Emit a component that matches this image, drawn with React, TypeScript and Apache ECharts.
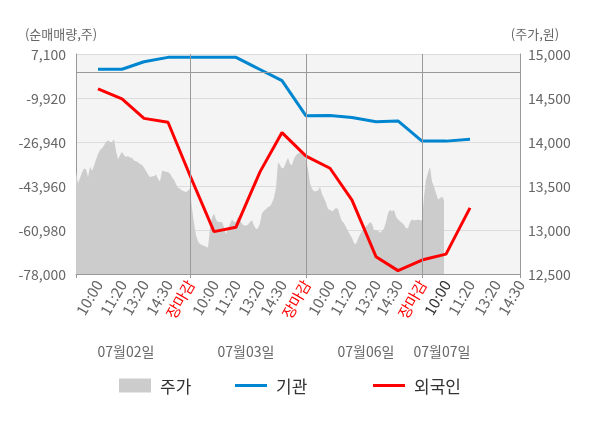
import React, { useEffect, useRef } from 'react';
import * as echarts from 'echarts';

// ---- data ----
const dayLabels = [
  ['10:00', '11:20', '13:20', '14:30', '장마감'],
  ['10:00', '11:20', '13:20', '14:30', '장마감'],
  ['10:00', '11:20', '13:20', '14:30', '장마감'],
  ['10:00', '11:20', '13:20', '14:30'],
];
const labelSlots = [11, 23, 34, 46, 57, 69, 80, 92, 103, 115, 127, 138, 150, 161, 173, 185, 197, 210, 222];
const dayBoundarySlots = [0, 57, 115, 173, 222];
const dates = ['07월02일', '07월03일', '07월06일', '07월07일'];
const dateSlots = [25, 85, 145, 183];
const currentSlot = 185;
const slotCount = 223;

const leftTicks = { min: -78000, max: 7100, interval: 17020 };
const rightTicks = { min: 12500, max: 15000, interval: 500 };

const institution = [1200, 1200, 4100, 5800, 5800, 5800, 5800, 1100, -3200, -16800, -16700, -17500, -19100, -18800, -26600, -26600, -25900];
const foreign = [-6400, -10300, -17800, -19300, -39900, -61600, -59900, -38500, -23300, -32400, -37100, -49400, -71300, -76700, -72600, -70300, -52400];

const price = [
  13660, 13530, 13590, 13650, 13700, 13690, 13600, 13720, 13670, 13730,
  13800, 13860, 13910, 13930, 13960, 14000, 14020, 14000, 14000, 14030,
  13900, 13800, 13850, 13890, 13850, 13830, 13840, 13820, 13820, 13790,
  13780, 13770, 13750, 13740, 13710, 13670, 13630, 13600, 13610, 13610,
  13630, 13580, 13550, 13670, 13670, 13660, 13660, 13640, 13600, 13570,
  13520, 13480, 13470, 13450, 13440, 13430, 13450, 13470, 13250, 13080,
  12940, 12870, 12840, 12830, 12820, 12810, 12800, 13020, 13140, 13190,
  13120, 13090, 13090, 13090, 13030, 12950, 13020, 13070, 13120, 13090,
  13090, 13150, 13110, 13070, 13050, 13050, 13060, 13090, 13110, 13050,
  13010, 13020, 13080, 13190, 13220, 13240, 13260, 13270, 13310, 13370,
  13480, 13770, 13740, 13700, 13710, 13770, 13820, 13750, 13740, 13810,
  13850, 13870, 13880, 13860, 13840, 13790, 13700, 13530, 13470, 13440,
  13440, 13450, 13490, 13410, 13360, 13310, 13240, 13230, 13210, 13230,
  13250, 13240, 13160, 13100, 13080, 13030, 12990, 12950, 12910, 12850,
  12840, 12900, 12950, 12990, 13020, 13040, 13060, 13090, 13070, 13000,
  13000, 12990, 12970, 12990, 13020, 13090, 13190, 13230, 13210, 13230,
  13150, 13120, 13100, 13080, 13060, 13020, 13020, 13090, 13120, 13110,
  13110, 13120, 13110, 13110, 13380, 13570, 13650, 13720, 13550, 13490,
  13420, 13350, 13360, 13380, 13340,
];

const timeLabels = dayLabels.flat();
const slotLabels: string[] = Array.from({ length: slotCount }, (_, i) => {
  const k = labelSlots.indexOf(i);
  return k >= 0 ? timeLabels[k] : '';
});
const dateAxisLabels: string[] = Array.from({ length: slotCount }, (_, i) => {
  const k = dateSlots.indexOf(i);
  return k >= 0 ? dates[k] : '';
});

const FONT = '"Noto Sans CJK KR", "Noto Sans", sans-serif';
const fmt = (v: number) => v.toLocaleString('en-US');

export default function App() {
  const ref = useRef<HTMLDivElement>(null);
  useEffect(() => {
    document.body.style.margin = '0';
    const chart = echarts.init(ref.current!, undefined, { renderer: 'svg' });
    const legendBase = {
      top: 372,
      itemWidth: 32,
      textStyle: { fontSize: 17, color: '#333', fontFamily: FONT, padding: [0, 0, 0, 4] },
    };
    chart.setOption({
      animation: false,
      textStyle: { fontFamily: FONT },
      grid: {
        left: 76, right: 80, top: 54, bottom: 154,
        show: true, backgroundColor: '#f4f4f4', borderWidth: 0,
      },
      legend: [
        { ...legendBase, left: 114, itemHeight: 14, data: [{ name: '주가', icon: 'rect' }] },
        { ...legendBase, left: 230, itemHeight: 3, data: [{ name: '기관', icon: 'rect' }] },
        { ...legendBase, left: 368, itemHeight: 3, data: [{ name: '외국인', icon: 'rect' }] },
      ],
      xAxis: [
        {
          type: 'category',
          data: slotLabels,
          boundaryGap: false,
          axisLine: { onZero: false, lineStyle: { color: '#999' } },
          axisTick: {
            show: true, length: 4, lineStyle: { color: '#999' },
            interval: (i: number) => dayBoundarySlots.includes(i),
          },
          splitLine: { show: false },
          axisLabel: {
            interval: (i: number) => slotLabels[i] !== '',
            rotate: 60,
            fontSize: 15,
            color: '#666',
            margin: 7,
            fontFamily: FONT,
            formatter: (v: string, i: number) =>
              v === '장마감' ? `{close|${v}}` : i === currentSlot ? `{cur|${v}}` : v,
            rich: {
              close: { color: '#ff0000', fontSize: 15, fontFamily: FONT },
              cur: { color: '#333', fontSize: 15, fontFamily: FONT },
            },
          },
        },
        {
          type: 'category',
          data: dateAxisLabels,
          boundaryGap: false,
          position: 'bottom',
          offset: 62,
          axisLine: { show: false, onZero: false },
          axisTick: { show: false },
          splitLine: { show: false },
          axisLabel: {
            interval: (i: number) => dateAxisLabels[i] !== '',
            fontSize: 14,
            color: '#666',
            fontFamily: FONT,
          },
        },
      ],
      yAxis: [
        {
          type: 'value',
          position: 'left',
          ...leftTicks,
          name: '(순매매량,주)',
          nameLocation: 'end',
          nameGap: 14,
          nameTextStyle: { color: '#666', fontSize: 13, fontFamily: FONT, padding: [0, 30, 0, 0] },
          axisLine: { show: true, lineStyle: { color: '#999' } },
          axisTick: { show: false },
          splitLine: { show: true, lineStyle: { color: '#dcdcdc' } },
          axisLabel: { color: '#666', fontSize: 14, margin: 10, formatter: fmt, fontFamily: FONT },
        },
        {
          type: 'value',
          position: 'right',
          ...rightTicks,
          name: '(주가,원)',
          nameLocation: 'end',
          nameGap: 14,
          nameTextStyle: { color: '#666', fontSize: 13, fontFamily: FONT, padding: [0, 0, 0, 30] },
          axisLine: { show: true, lineStyle: { color: '#999' } },
          axisTick: { show: false },
          splitLine: { show: false },
          axisLabel: { color: '#666', fontSize: 14, margin: 8, formatter: fmt, fontFamily: FONT },
        },
      ],
      series: [
        {
          name: '주가',
          type: 'line',
          xAxisIndex: 0,
          yAxisIndex: 1,
          data: price,
          symbol: 'none',
          lineStyle: { width: 0 },
          itemStyle: { color: '#cccccc' },
          areaStyle: { color: '#cccccc', opacity: 1, origin: 'start' },
          z: 1,
          markLine: {
            silent: true,
            symbol: ['none', 'none'],
            label: { show: false },
            lineStyle: { color: '#999', type: 'solid', width: 1 },
            data: dayBoundarySlots.slice(1, 4).map((s) => ({ xAxis: s })),
          },
        },
        {
          name: '기관',
          type: 'line',
          xAxisIndex: 0,
          yAxisIndex: 0,
          data: institution.map((v, i) => [labelSlots[i], v]),
          symbol: 'none',
          lineStyle: { width: 3, color: '#0086d1' },
          itemStyle: { color: '#0086d1' },
          z: 3,
          markLine: {
            silent: true,
            symbol: ['none', 'none'],
            label: { show: false },
            lineStyle: { color: '#999', type: 'solid', width: 1 },
            data: [{ yAxis: 0 }],
          },
        },
        {
          name: '외국인',
          type: 'line',
          xAxisIndex: 0,
          yAxisIndex: 0,
          data: foreign.map((v, i) => [labelSlots[i], v]),
          symbol: 'none',
          lineStyle: { width: 3, color: '#ff0000' },
          itemStyle: { color: '#ff0000' },
          z: 4,
        },
      ],
    });
    return () => chart.dispose();
  }, []);
  return <div ref={ref} style={{ position: 'fixed', left: 0, top: 0, width: 600, height: 428 }} />;
}
